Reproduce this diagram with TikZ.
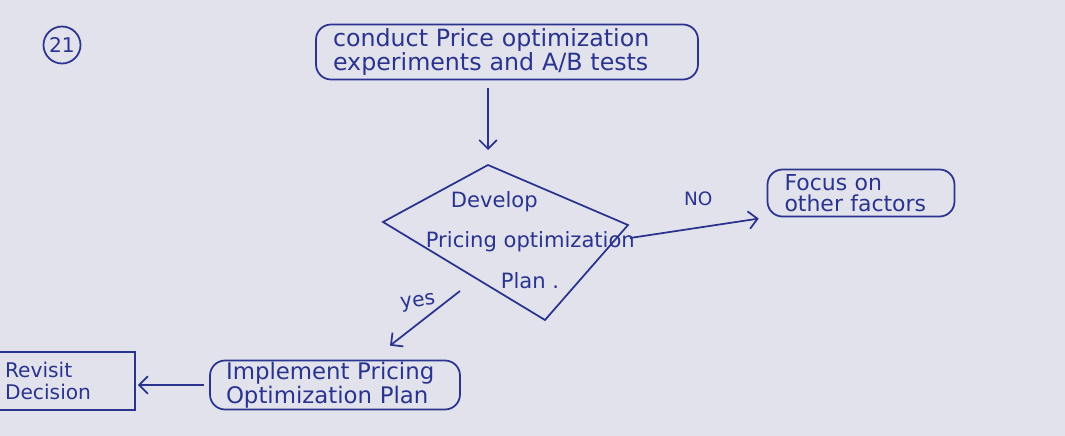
\documentclass[tikz,border=0pt]{standalone}
\usepackage{fontspec}
\setmainfont{DejaVu Sans}
\usetikzlibrary{arrows.meta}
\definecolor{ink}{RGB}{42,52,142}
\definecolor{paper}{RGB}{226,226,236}
\tikzset{
  procbox/.style={draw, rounded corners=0.3cm, align=left, inner ysep=0.03cm},
  plainbox/.style={draw, align=left, inner ysep=0.05cm},
  pageno/.style={draw, circle, minimum size=0.74cm, inner sep=0pt, font=\fontsize{11.5}{12}\selectfont}
}

\begin{document}
\begin{tikzpicture}[x=0.02cm,y=-0.02cm,line width=1pt,color=ink,>={Straight Barb[length=5pt,width=10pt]}]
                \fill[paper] (0,0) rectangle (1065,436);
                \useasboundingbox (0,0) rectangle (1065,436);
                \clip (0,0) rectangle (1065,436);

                \node[pageno] (pageno) at (62,45) {21};

                \node[procbox, minimum width=7.64cm, minimum height=1.1cm, text width=6.96cm, inner xsep=0.34cm, font=\fontsize{13.5}{14}\selectfont] (conduct) at (507,52) {conduct Price optimization\\experiments and A/B tests};

                % decision
                \coordinate (dl) at (383,222);
                \coordinate (dt) at (488,165);
                \coordinate (dr) at (628,225);
                \coordinate (db) at (545,320);
                \draw (dl) -- (dt) -- (dr) -- (db) -- cycle;
                \node[anchor=west, align=left, inner sep=0pt, font=\fontsize{12}{23}\selectfont] (develop) at (425,240) {\hspace*{0.5cm}Develop\\Pricing optimization\\\hspace*{1.5cm}Plan .};

                \node[procbox, minimum width=3.74cm, minimum height=0.94cm, text width=3.06cm, inner xsep=0.34cm, font=\fontsize{12.5}{12}\selectfont] (focus) at (861,193) {Focus on\\other factors};
                \node[procbox, minimum width=5cm, minimum height=0.92cm, text width=4.36cm, inner xsep=0.32cm, font=\fontsize{13}{12}\selectfont] (implement) at (335,385) {Implement Pricing\\Optimization Plan};
                \node[plainbox, minimum width=2.8cm, minimum height=1.16cm, text width=2.4cm, inner xsep=0.2cm, font=\fontsize{11.5}{13}\selectfont] (revisit) at (65,381) {Revisit\\Decision};

                \draw[->,shorten <=0.16cm,shorten >=0.3cm] (conduct.south -| dt) -- (dt);
                \draw[->,shorten >=0.16cm] ([shift={(2,13)}]dr) -- (focus.south west) node[pos=0.5, above=0.3cm, font=\fontsize{10.5}{10}\selectfont] (nolabel) {NO};
                \coordinate (yesfrom) at (460,291);
                \draw[->] (yesfrom) -- ([shift={(55,-14)}]implement.north);
                \node[rotate=8, font=\fontsize{11.5}{11}\selectfont] (yeslabel) at (418,303) {yes};
                \draw[->,shorten <=0.1cm,shorten >=0.04cm] (implement.west) -- (implement.west -| revisit.east);
\end{tikzpicture}
\end{document}
